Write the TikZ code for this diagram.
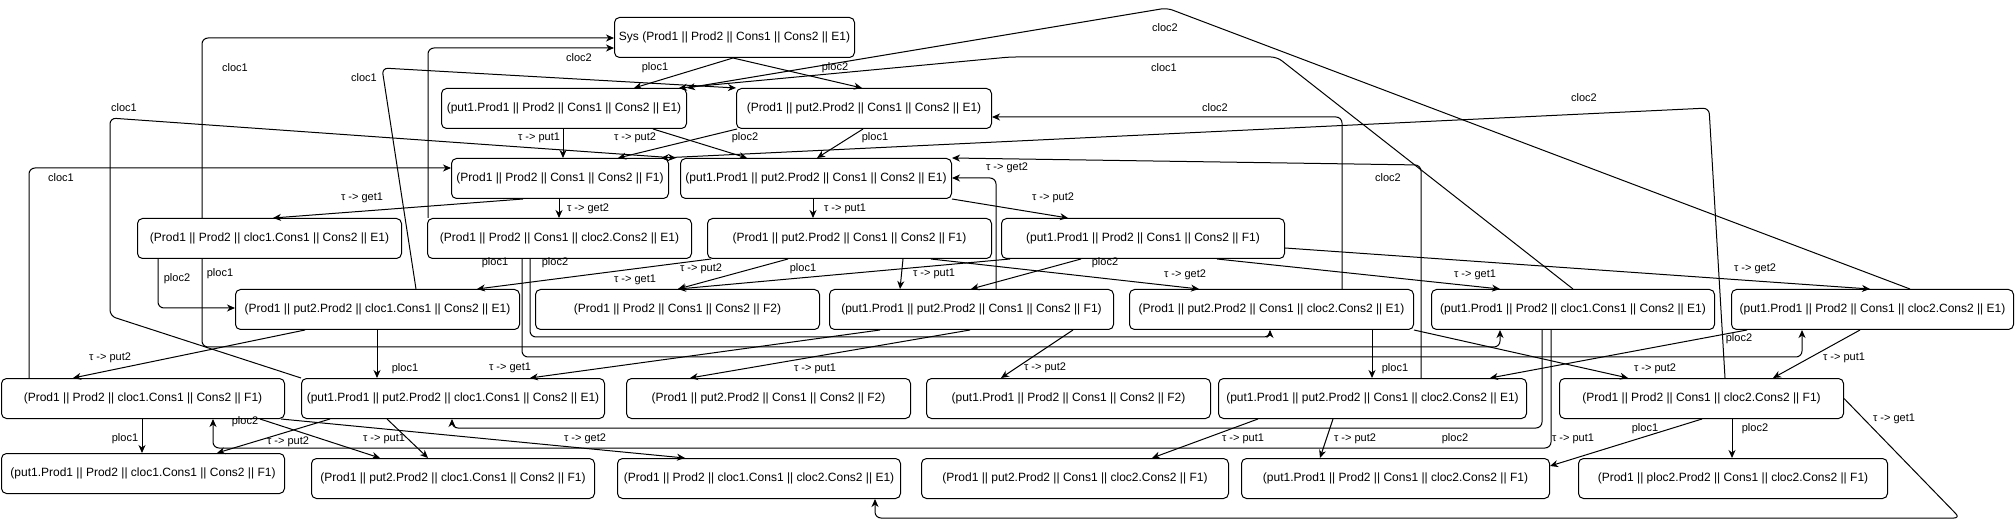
\documentclass[tikz,border=0pt]{standalone}
\usepackage{fontspec}
\setmainfont{Liberation Sans}
\usetikzlibrary{arrows.meta}
\begin{document}
\begin{tikzpicture}[x=1pt,y=-1pt,
  box/.style={draw, line width=1pt, rounded corners=5pt, minimum height=40pt, inner sep=0pt, anchor=north west, font=\fontsize{12}{14}\selectfont},
  lbl/.style={font=\fontsize{11}{13}\selectfont, inner sep=0pt},
  edge/.style={draw, line width=1pt, rounded corners=6pt, -{Stealth[length=8pt,width=7pt,inset=2.5pt]}}]
\useasboundingbox (0,0) rectangle (2015,526);
% ---------- states ----------
\node[box, minimum width=240pt] (A) at (614,17) {Sys (Prod1 || Prod2 || Cons1 || Cons2 || E1)};
\node[box, minimum width=245pt] (B) at (441,88) {(put1.Prod1 || Prod2 || Cons1 || Cons2 || E1)};
\node[box, minimum width=255pt] (C) at (736,88) {(Prod1 || put2.Prod2 || Cons1 || Cons2 || E1)};
\node[box, minimum width=217pt] (D) at (451,158) {(Prod1 || Prod2 || Cons1 || Cons2 || F1)};
\node[box, minimum width=271pt] (E) at (680,158) {(put1.Prod1 || put2.Prod2 || Cons1 || Cons2 || E1)};
\node[box, minimum width=264pt] (F) at (137,218) {(Prod1 || Prod2 || cloc1.Cons1 || Cons2 || E1)};
\node[box, minimum width=264pt] (G) at (427,218) {(Prod1 || Prod2 || Cons1 || cloc2.Cons2 || E1)};
\node[box, minimum width=284pt] (H) at (707,218) {(Prod1 || put2.Prod2 || Cons1 || Cons2 || F1)};
\node[box, minimum width=283pt] (I) at (1001,218) {(put1.Prod1 || Prod2 || Cons1 || Cons2 || F1)};
\node[box, minimum width=284pt] (J) at (235,289) {(Prod1 || put2.Prod2 || cloc1.Cons1 || Cons2 || E1)};
\node[box, minimum width=284pt] (K) at (535,289) {(Prod1 || Prod2 || Cons1 || Cons2 || F2)};
\node[box, minimum width=284pt] (L) at (829,289) {(put1.Prod1 || put2.Prod2 || Cons1 || Cons2 || F1)};
\node[box, minimum width=284pt] (M) at (1129,289) {(Prod1 || put2.Prod2 || Cons1 || cloc2.Cons2 || E1)};
\node[box, minimum width=283pt] (N) at (1431,289) {(put1.Prod1 || Prod2 || cloc1.Cons1 || Cons2 || E1)};
\node[box, minimum width=282pt] (O) at (1731,289) {(put1.Prod1 || Prod2 || Cons1 || cloc2.Cons2 || E1)};
\node[box, minimum width=283pt] (P) at (1,378) {(Prod1 || Prod2 || cloc1.Cons1 || Cons2 || F1)};
\node[box, minimum width=303pt] (Q) at (301,378) {(put1.Prod1 || put2.Prod2 || cloc1.Cons1 || Cons2 || E1)};
\node[box, minimum width=284pt] (R) at (626,378) {(Prod1 || put2.Prod2 || Cons1 || Cons2 || F2)};
\node[box, minimum width=284pt] (S) at (926,378) {(put1.Prod1 || Prod2 || Cons1 || Cons2 || F2)};
\node[box, minimum width=308pt] (T) at (1218,378) {(put1.Prod1 || put2.Prod2 || Cons1 || cloc2.Cons2 || E1)};
\node[box, minimum width=284pt] (U) at (1559,378) {(Prod1 || Prod2 || Cons1 || cloc2.Cons2 || F1)};
\node[box, minimum width=283pt] (V) at (1,453) {(put1.Prod1 || Prod2 || cloc1.Cons1 || Cons2 || F1)};
\node[box, minimum width=283pt] (W) at (311,458) {(Prod1 || put2.Prod2 || cloc1.Cons1 || Cons2 || F1)};
\node[box, minimum width=283pt] (X) at (617,458) {(Prod1 || Prod2 || cloc1.Cons1 || cloc2.Cons2 || E1)};
\node[box, minimum width=307pt] (Y) at (921,458) {(Prod1 || put2.Prod2 || Cons1 || cloc2.Cons2 || F1)};
\node[box, minimum width=308pt] (Z) at (1241,458) {(put1.Prod1 || Prod2 || Cons1 || cloc2.Cons2 || F1)};
\node[box, minimum width=309pt] (AA) at (1578,458) {(Prod1 || ploc2.Prod2 || Cons1 || cloc2.Cons2 || F1)};
% ---------- transitions ----------
\draw[edge] ([xshift=119pt]A.south west) -- ([xshift=193pt]B.north west);
\draw[edge] ([xshift=119pt]A.south west) -- ([xshift=126pt]C.north west);
\draw[edge] ([xshift=65pt]F.north west) -- (202,38) -- ([yshift=-21pt]A.north west);
\draw[edge] ([xshift=1pt]G.north west) -- (428,48) -- ([yshift=-31pt]A.north west);
\draw[edge] ([xshift=181pt]J.north west) -- (382,68) -- (C.north west);
\draw[edge] ([xshift=142pt]N.north west) -- (1277,57) -- (1010,57) -- ([xshift=-8pt]B.north east);
\draw[edge] ([xshift=179pt]O.north west) -- (1167,8) -- (B.north east);
\draw[edge] ([xshift=213pt]M.north west) -- (1342,117) -- ([yshift=-29pt]C.north east);
\draw[edge] ([xshift=203pt]T.north west) -- (1421,165) -- (E.north east);
\draw[edge] ([xshift=167pt]L.north west) -- (996,178) -- ([yshift=-20pt]E.north east);
\draw[edge] ([xshift=166pt]U.north west) -- (1709,108) -- ([xshift=-8pt]D.north east);
\draw[edge] (Q.north west) -- (110,316) -- (110,118) -- ([xshift=-4pt]E.north west);
\draw[edge] ([xshift=28pt]P.north west) -- (29,168) -- ([yshift=-10pt]D.north west);
\draw[edge] ([xshift=72pt]D.south west) -- ([xshift=136pt]F.north west);
\draw[edge] ([xshift=108pt]D.south west) -- ([xshift=132pt]G.north west);
\draw[edge] ([xshift=122pt]B.south west) -- ([xshift=112pt]D.north west);
\draw[edge] ([xshift=1pt]C.south west) -- ([xshift=167pt]D.north west);
\draw[edge] ([xshift=212pt]B.south west) -- ([xshift=67pt]E.north west);
\draw[edge] ([xshift=127pt]C.south west) -- ([xshift=137pt]E.north west);
\draw[edge] ([xshift=133pt]E.south west) -- ([xshift=106pt]H.north west);
\draw[edge] (E.south east) -- ([xshift=67pt]I.north west);
\draw[edge] ([xshift=21pt]F.south west) -- (158,308) -- ([yshift=-19pt]J.north west);
\draw[edge] ([xshift=65pt]F.south west) -- (202,347) -- (1500,347) -- ([xshift=69pt]N.south west);
\draw[edge] ([xshift=95pt]G.south west) -- (522,357) -- (1802,357) -- ([xshift=71pt]O.south west);
\draw[edge] ([xshift=103pt]G.south west) -- (530,337) -- (1270,337) -- ([xshift=141pt]M.south west);
\draw[edge] ([xshift=4pt]H.south west) -- ([xshift=242pt]J.north west);
\draw[edge] ([xshift=81pt]H.south west) -- ([xshift=143pt]K.north west);
\draw[edge] ([xshift=9pt]I.south west) -- ([xshift=143pt]K.north west);
\draw[edge] ([xshift=196pt]H.south west) -- ([xshift=71pt]L.north west);
\draw[edge] ([xshift=224pt]H.south west) -- ([xshift=70pt]M.north west);
\draw[edge] ([xshift=80pt]I.south west) -- ([xshift=142pt]L.north west);
\draw[edge] ([xshift=216pt]I.south west) -- ([xshift=69pt]N.north west);
\draw[edge] ([yshift=-30pt]I.north east) -- ([xshift=139pt]O.north west);
\draw[edge] ([xshift=70pt]J.south west) -- ([xshift=72pt]P.north west);
\draw[edge] ([xshift=142pt]J.south west) -- ([xshift=76pt]Q.north west);
\draw[edge] ([xshift=51pt]L.south west) -- ([xshift=229pt]Q.north west);
\draw[edge] ([xshift=141pt]L.south west) -- ([xshift=64pt]R.north west);
\draw[edge] ([xshift=244pt]L.south west) -- ([xshift=75pt]S.north west);
\draw[edge] ([xshift=243pt]M.south west) -- ([xshift=154pt]T.north west);
\draw[edge] (M.south east) -- ([xshift=69pt]U.north west);
\draw[edge] ([xshift=16pt]O.south west) -- ([xshift=272pt]T.north west);
\draw[edge] ([xshift=129pt]O.south west) -- ([xshift=214pt]U.north west);
\draw[edge] ([xshift=141pt]P.south west) -- ([xshift=141pt]V.north west);
\draw[edge] ([xshift=259pt]P.south west) -- ([xshift=69pt]W.north west);
\draw[edge] ([xshift=29pt]Q.south west) -- ([xshift=216pt]V.north west);
\draw[edge] ([xshift=86pt]Q.south west) -- ([xshift=117pt]W.north west);
\draw[edge] ([xshift=-4pt]P.south east) -- ([xshift=68pt]X.north west);
\draw[edge] ([xshift=111pt]N.south west) -- (1542,428) -- (452,428) -- ([xshift=151pt]Q.south west);
\draw[edge] ([xshift=120pt]N.south west) -- (1551,448) -- (213,448) -- ([xshift=212pt]P.south west);
\draw[edge] ([xshift=40pt]T.south west) -- ([xshift=231pt]Y.north west);
\draw[edge] ([xshift=115pt]T.south west) -- ([xshift=79pt]Z.north west);
\draw[edge] ([xshift=143pt]U.south west) -- ([yshift=-8pt]Z.north east);
\draw[edge] ([xshift=173pt]U.south west) -- ([xshift=154pt]AA.north west);
\draw[edge] (U.east) -- (1960,518) -- (875,518) -- ([xshift=258pt]X.south west);
% ---------- labels ----------
\node[lbl] (l1) at (655,68) {ploc1};
\node[lbl] (l2) at (835,68) {ploc2};
\node[lbl] (l3) at (235,68) {cloc1};
\node[lbl] (l4) at (579,58) {cloc2};
\node[lbl] (l5) at (364,78) {cloc1};
\node[lbl] (l6) at (1164,68) {cloc1};
\node[lbl] (l7) at (1165,28) {cloc2};
\node[lbl] (l8) at (1215,108) {cloc2};
\node[lbl] (l9) at (1388,178) {cloc2};
\node[lbl] (l10) at (1007,168) {τ -> get2};
\node[lbl] (l11) at (1584,98) {cloc2};
\node[lbl] (l12) at (124,108) {cloc1};
\node[lbl] (l13) at (61,178) {cloc1};
\node[lbl] (l14) at (362,198) {τ -> get1};
\node[lbl] (l15) at (588,209) {τ -> get2};
\node[lbl] (l16) at (539,138) {τ -> put1};
\node[lbl] (l17) at (635,138) {τ -> put2};
\node[lbl] (l18) at (745,138) {ploc2};
\node[lbl] (l19) at (875,138) {ploc1};
\node[lbl] (l20) at (845,209) {τ -> put1};
\node[lbl] (l21) at (1053,198) {τ -> put2};
\node[lbl] (l22) at (177,279) {ploc2};
\node[lbl] (l23) at (220,274) {ploc1};
\node[lbl] (l24) at (495,263) {ploc1};
\node[lbl] (l25) at (555,263) {ploc2};
\node[lbl] (l26) at (635,280) {τ -> get1};
\node[lbl] (l27) at (701,269) {τ -> put2};
\node[lbl] (l28) at (803,269) {ploc1};
\node[lbl] (l29) at (934,274) {τ -> put1};
\node[lbl] (l30) at (1185,275) {τ -> get2};
\node[lbl] (l31) at (1105,263) {ploc2};
\node[lbl] (l32) at (1475,275) {τ -> get1};
\node[lbl] (l33) at (1755,269) {τ -> get2};
\node[lbl] (l34) at (110,358) {τ -> put2};
\node[lbl] (l35) at (405,369) {ploc1};
\node[lbl] (l36) at (510,368) {τ -> get1};
\node[lbl] (l37) at (815,369) {τ -> put1};
\node[lbl] (l38) at (1045,368) {τ -> put2};
\node[lbl] (l39) at (1395,369) {ploc1};
\node[lbl] (l40) at (1655,369) {τ -> put2};
\node[lbl] (l41) at (1739,339) {ploc2};
\node[lbl] (l42) at (1844,358) {τ -> put1};
\node[lbl] (l43) at (125,439) {ploc1};
\node[lbl] (l44) at (245,422) {ploc2};
\node[lbl] (l45) at (288,442) {τ -> put2};
\node[lbl] (l46) at (384,439) {τ -> put1};
\node[lbl] (l47) at (585,439) {τ -> get2};
\node[lbl] (l48) at (1455,439) {ploc2};
\node[lbl] (l49) at (1573,439) {τ -> put1};
\node[lbl] (l50) at (1243,439) {τ -> put1};
\node[lbl] (l51) at (1355,439) {τ -> put2};
\node[lbl] (l52) at (1645,429) {ploc1};
\node[lbl] (l53) at (1755,429) {ploc2};
\node[lbl] (l54) at (1894,419) {τ -> get1};
\end{tikzpicture}
\end{document}
